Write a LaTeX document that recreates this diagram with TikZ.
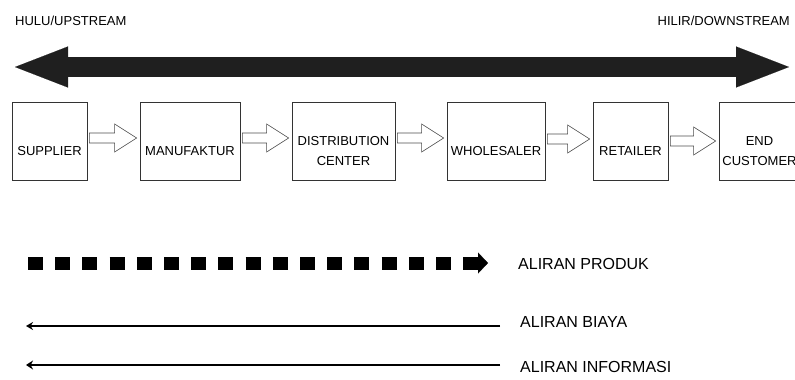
\documentclass[tikz,border=0pt]{standalone}
\usepackage{fontspec}
\setmainfont{Liberation Sans}
\usetikzlibrary{arrows.meta,calc}

\begin{document}
\begin{tikzpicture}[x=1pt,y=-1pt,>=Stealth,
  box/.style={draw=black!80,line width=0.7pt,minimum height=78pt,inner sep=0pt},
  boxtext/.style={font=\fontsize{13pt}{20pt}\selectfont,align=center,inner sep=0pt},
  hollow/.style={draw=black!70,line width=0.6pt,
    to path={let \p1=(\tikztostart),\p2=(\tikztotarget) in
      (\x1+2pt,\y1+5pt) -- (\x2-25pt,\y1+5pt) -- (\x2-25pt,\y1+14pt) -- (\x2-3pt,\y1)
      -- (\x2-25pt,\y1-14pt) -- (\x2-25pt,\y1-5pt) -- (\x1+2pt,\y1-5pt) -- cycle}},
  stream/.style={line width=20pt,color=black!88,
    arrows={Triangle[length=53pt,width=41pt,line width=0.1pt]-Triangle[length=53pt,width=41pt,line width=0.1pt]}},
  toplabel/.style={inner sep=0pt,font=\fontsize{13pt}{16pt}\selectfont},
  legend/.style={anchor=west,inner sep=0pt,font=\fontsize{16pt}{19pt}\selectfont}]
\clip (0,0) rectangle (795,380);
% hulu / hilir
\node[toplabel,anchor=west] (hulu-label) at (15,21) {HULU/UPSTREAM};
\node[toplabel,anchor=east] (hilir-label) at (790,21) {HILIR/DOWNSTREAM};
\coordinate (hulu) at (15,67); \coordinate (hilir) at (789,67);
\draw[stream] (hulu) -- (hilir);
% rantai pasok
\foreach \n/\xa/\xb/\txt in {supplier/12/87/SUPPLIER, manufaktur/140/240/MANUFAKTUR,
    dc/292/395/{DISTRIBUTION\\CENTER}, wholesaler/447/545/WHOLESALER,
    retailer/593/668/RETAILER, customer/719/800/{END\\CUSTOMER}}
  {\pgfmathsetmacro\w{\xb-\xa}
   \node[box,minimum width=\w pt] (\n) at ({(\xa+\xb)/2},141) {};
   \node[boxtext] (\n-txt) at ([yshift=-10pt]\n.center) {\txt};}
\foreach \a/\b/\dy in {supplier/manufaktur/3, manufaktur/dc/3, dc/wholesaler/3,
    wholesaler/retailer/2, retailer/customer/0}
  {\draw[hollow] ([yshift=\dy pt]\a.east) to ([yshift=\dy pt]\b.west);}
% keterangan aliran
\node[legend] (produk) at (518,264) {ALIRAN PRODUK};
\node[legend] (biaya) at (520,322) {ALIRAN BIAYA};
\node[legend] (informasi) at (520,367) {ALIRAN INFORMASI};
\coordinate (produk-start) at (28,263); \coordinate (produk-end) at (488,263);
\coordinate (biaya-start) at (500,326); \coordinate (biaya-end) at (26,326);
\coordinate (informasi-start) at (500,365); \coordinate (informasi-end) at (26,365);
\draw[line width=13pt,dash pattern=on 15pt off 12.2pt,
  -{Triangle[length=10pt,width=21pt,line width=0.1pt]}] (produk-start) -- (produk-end);
\draw[line width=1.6pt,-{Stealth[length=7pt,width=8pt]}] (biaya-start) -- (biaya-end);
\draw[line width=2.4pt,-{Stealth[length=7pt,width=9pt]}] (informasi-start) -- (informasi-end);
\end{tikzpicture}
\end{document}
